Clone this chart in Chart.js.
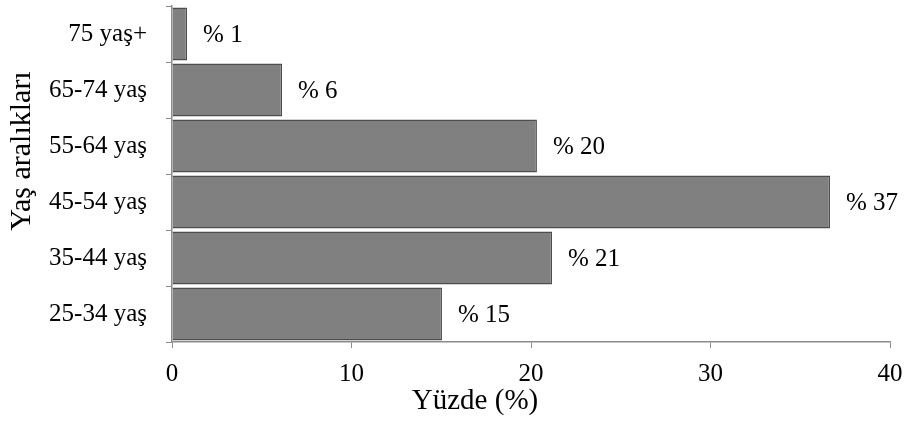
<!DOCTYPE html>
<html>
<head>
<meta charset="utf-8">
<script src="https://cdn.jsdelivr.net/npm/chart.js@4"></script>
<style>
  html, body { margin: 0; padding: 0; background: #fff; }
  #wrap { width: 907px; height: 421px; }
</style>
</head>
<body>
<div id="wrap"><canvas id="chart" width="907" height="421"></canvas></div>
<script>
// Data
const categories = ['75 yaş+', '65-74 yaş', '55-64 yaş', '45-54 yaş', '35-44 yaş', '25-34 yaş'];
const percentValues = [0.84, 6.13, 20.33, 36.66, 21.17, 15.04];
const valueLabels = ['% 1', '% 6', '% 20', '% 37', '% 21', '% 15'];
const xTicks = [0, 10, 20, 30, 40];
const xTitle = 'Yüzde (%)';
const yTitle = 'Yaş aralıkları';

const FONT = '"Liberation Serif", "Times New Roman", serif';

// draws "% N" to the right of each bar, plus both axis titles
// (the titles sit off-centre in the original, so they are placed by hand)
const barLabels = {
    id: 'barLabels',
    afterDatasetsDraw(chart) {
        const ctx = chart.ctx;
        const meta = chart.getDatasetMeta(0);
        ctx.save();
        ctx.font = '25px ' + FONT;
        ctx.fillStyle = '#000';
        ctx.textBaseline = 'middle';
        ctx.textAlign = 'left';
        meta.data.forEach((bar, i) => {
            ctx.fillText(valueLabels[i], bar.x + 16, bar.y + 1);
        });
        ctx.restore();
    },
    afterDraw(chart) {
        const ctx = chart.ctx;
        ctx.save();
        ctx.fillStyle = '#000';
        ctx.textAlign = 'center';
        ctx.textBaseline = 'alphabetic';

        ctx.font = '29px ' + FONT;
        ctx.fillText(xTitle, 475, 409);

        ctx.font = '30px ' + FONT;
        ctx.translate(30, 151);
        ctx.rotate(-Math.PI / 2);
        ctx.fillText(yTitle, 0, 0);
        ctx.restore();
    }
};

new Chart(document.getElementById('chart'), {
    type: 'bar',
    data: {
        labels: categories,
        datasets: [{
            data: percentValues,
            backgroundColor: '#808080',
            borderColor: '#4d4d4d',
            borderWidth: 1.5,
            barPercentage: 0.95,
            categoryPercentage: 1.0
        }]
    },
    options: {
        indexAxis: 'y',
        responsive: false,
        animation: false,
        layout: { padding: { top: 6, right: 17, left: 0, bottom: 0 } },
        plugins: {
            legend: { display: false },
            tooltip: { enabled: false }
        },
        scales: {
            x: {
                min: 0,
                max: 40,
                afterBuildTicks: (axis) => { axis.ticks = xTicks.map(v => ({ value: v })); },
                afterFit: (axis) => {
                    axis.height = 79;
                    axis.paddingLeft = 0;
                    axis.paddingRight = 0;
                },
                grid: { drawOnChartArea: false, color: '#8c8c8c', tickLength: 6 },
                border: { color: '#8c8c8c', width: 1.5 },
                ticks: { color: '#000', font: { family: FONT, size: 25 }, padding: 11, maxRotation: 0 }
            },
            y: {
                offset: true,
                afterFit: (axis) => {
                    axis.width = 172;
                    axis.paddingTop = 0;
                    axis.paddingBottom = 0;
                },
                grid: { drawOnChartArea: false, offset: true, color: '#8c8c8c', tickLength: 6 },
                border: { color: '#8c8c8c', width: 1.5 },
                ticks: { color: '#000', font: { family: FONT, size: 25 }, padding: 19 }
            }
        }
    },
    plugins: [barLabels]
});
</script>
</body>
</html>
